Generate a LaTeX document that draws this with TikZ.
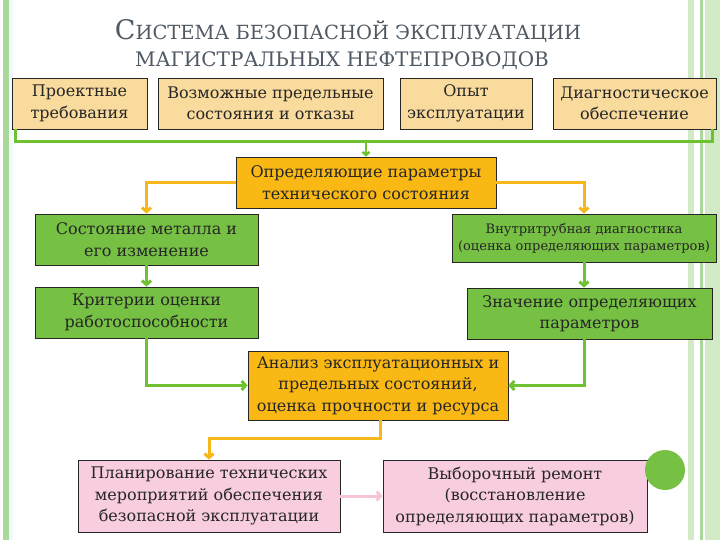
\documentclass[tikz,border=0pt]{standalone}
\usepackage{fontspec}
\setmainfont{DejaVu Serif}
\usetikzlibrary{arrows.meta, positioning}

\definecolor{boxtan}{HTML}{FADB9E}
\definecolor{boxgold}{HTML}{F9B814}
\definecolor{boxgreen}{HTML}{76C143}
\definecolor{boxpink}{HTML}{F8CDE0}
\definecolor{linegreen}{HTML}{6EC22F}
\definecolor{lineyellow}{HTML}{F5B71A}
\definecolor{linepink}{HTML}{F6C3D8}
\definecolor{titlegray}{HTML}{505A64}
\definecolor{stripelight}{HTML}{D2EBC6}
\definecolor{stripemid}{HTML}{A9D898}

\begin{document}
\begin{tikzpicture}[x=1pt, y=-1pt,
        box/.style={rectangle, draw=black!85, line width=0.8pt, align=center, inner sep=1pt, text=black!85, font=\fontsize{16}{21.5}\selectfont},
        top/.style={box, fill=boxtan, minimum height=51pt},
        key/.style={box, fill=boxgold},
        grn/.style={box, fill=boxgreen, minimum height=51pt},
        pnk/.style={box, fill=boxpink, minimum height=72pt},
        garr/.style={-{Straight Barb[length=4pt, width=9pt]}, linegreen, line width=3pt},
        yarr/.style={-{Straight Barb[length=4pt, width=9pt]}, lineyellow, line width=3pt},
        parr/.style={-{Straight Barb[length=4pt, width=9pt]}, linepink, line width=3pt}
    ]
    \useasboundingbox (0,0) rectangle (720,540);
    \fill[white] (0,0) rectangle (720,540);

    % side stripes
    \fill[stripemid] (3,0) rectangle (9,540);
    \fill[cyan!6] (9,0) rectangle (13,540);
    \fill[stripelight] (688,0) rectangle (694,540);
    \fill[stripemid] (700,0) rectangle (703,540);
    \fill[stripelight] (705,0) rectangle (720,540);

    % title
    \node[text=titlegray] (title1) at (348,31) {\fontsize{27}{27}\selectfont С\fontsize{19.5}{19.5}\selectfont ИСТЕМА БЕЗОПАСНОЙ ЭКСПЛУАТАЦИИ};
    \node[text=titlegray] (title2) at (342,61) {\fontsize{20}{20}\selectfont МАГИСТРАЛЬНЫХ НЕФТЕПРОВОДОВ};

    % inputs
    \node[top, minimum width=135pt] (req) at (79.5,103.5) {Проектные\\требования};
    \node[top, minimum width=225pt] (lim) at (270.5,103.5) {Возможные предельные\\состояния и отказы};
    \node[top, minimum width=132pt] (exp) at (466,103.5) {Опыт\\эксплуатации};
    \node[top, minimum width=163pt] (diag) at (634.5,103.5) {Диагностическое\\обеспечение};

    \node[key, minimum width=260pt, minimum height=51pt] (param) at (366,182.5) {Определяющие параметры\\технического состояния};

    \node[grn, minimum width=223pt] (metal) at (146.5,239.5) {Состояние металла и\\его изменение};
    \node[grn, minimum width=223pt] (crit) at (146.5,312.5) {Критерии оценки\\работоспособности};
    \node[grn, minimum width=264pt, minimum height=48pt, font=\fontsize{13}{17}\selectfont] (ilid) at (584,238) {Внутритрубная диагностика\\(оценка определяющих параметров)};
    \node[grn, minimum width=245pt] (value) at (589.5,313.5) {Значение определяющих\\параметров};

    \node[key, minimum width=260pt, minimum height=69pt] (anal) at (378,385.5) {Анализ эксплуатационных и\\предельных состояний,\\оценка прочности и ресурса};

    \node[pnk, minimum width=262pt] (plan) at (209,496) {Планирование технических\\мероприятий обеспечения\\безопасной эксплуатации};
    \node[pnk, minimum width=264pt] (repair) at (515,496) {Выборочный ремонт\\(восстановление\\определяющих параметров)};

    \node[circle, fill=boxgreen, minimum size=40pt, inner sep=0pt] (dot) at (665,470) {};

    % connectors
    \coordinate (bus) at (366,142);
    \draw[linegreen, line width=3pt] ([xshift=4pt]req.south west) |- (bus) -| ([xshift=-4pt]diag.south east);
    \draw[linegreen, line width=2.5pt, -{Straight Barb[length=3pt, width=7pt]}] (bus) -- (param);

    \draw[yarr] (param.west) -| (metal.north);
    \draw[yarr] (param.east) -| (ilid.north);

    \draw[garr] (metal) -- (crit);
    \draw[garr] (ilid.south) -- (ilid.south |- value.north);
    \draw[garr] (crit.south) |- (anal.west);
    \draw[garr] (ilid.south |- value.south) |- (anal.east);

    \draw[yarr] ([xshift=2pt]anal.south) -- ++(0,18) -| (plan.north);
    \draw[parr] (plan) -- (repair);

\end{tikzpicture}
\end{document}
